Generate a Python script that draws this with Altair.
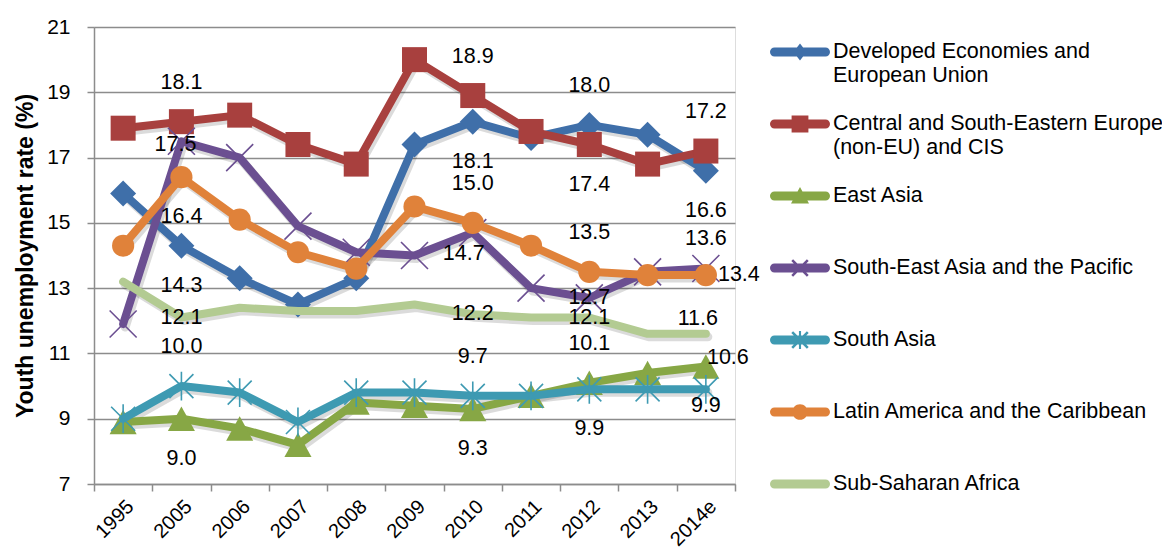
import altair as alt
import pandas as pd

years = ["1995", "2005", "2006", "2007", "2008", "2009", "2010", "2011", "2012", "2013", "2014e"]

names = [
    "Developed Economies and European Union",
    "Central and South-Eastern Europe (non-EU) and CIS",
    "East Asia",
    "South-East Asia and the Pacific",
    "South Asia",
    "Latin America and the Caribbean",
    "Sub-Saharan Africa",
]

dev = [15.9, 14.3, 13.3, 12.5, 13.3, 17.4, 18.1, 17.6, 18.0, 17.7, 16.6]
cse = [17.9, 18.1, 18.3, 17.4, 16.8, 20.0, 18.9, 17.8, 17.4, 16.8, 17.2]
eas = [8.9, 9.0, 8.7, 8.2, 9.5, 9.4, 9.3, 9.7, 10.1, 10.4, 10.6]
sea = [11.9, 17.5, 17.0, 14.9, 14.1, 14.0, 14.7, 13.0, 12.7, 13.5, 13.6]
sas = [9.0, 10.0, 9.8, 8.9, 9.8, 9.8, 9.7, 9.7, 9.9, 9.9, 9.9]
lac = [14.3, 16.4, 15.1, 14.1, 13.6, 15.5, 15.0, 14.3, 13.5, 13.4, 13.4]
ssa = [13.2, 12.1, 12.4, 12.3, 12.3, 12.5, 12.2, 12.1, 12.1, 11.6, 11.6]
values = [dev, cse, eas, sea, sas, lac, ssa]

labeled_years = ["2005", "2010", "2012", "2014e"]
y_ticks = [7, 9, 11, 13, 15, 17, 19, 21]

colors = ["#3F6FA9", "#A8403E", "#87A745", "#6B4F91", "#3E9AB2", "#E0823A", "#B3CB92"]

# ---- styles ----
FONT = "Liberation Sans, Arial, sans-serif"
GRID = "#8C8C8C"

# plot markers (custom symbol paths), None = no marker
marker = [
    dict(shape="M0,-1L1,0L0,1L-1,0Z", size=676, filled=True),
    dict(shape="M-1,-1H1V1H-1Z", size=625, filled=True),
    dict(shape="M0,-0.95L1.05,0.95L-1.05,0.95Z", size=665, filled=True),
    dict(shape="M-1,-1L1,1M-1,1L1,-1", size=729, filled=False, strokeWidth=1.6),
    dict(shape="M-1,-1L1,1M-1,1L1,-1M0,-1.2L0,1.2", size=576, filled=False, strokeWidth=1.6),
    dict(shape="circle", size=491, filled=True),
    None,
]

# legend symbols: bar + marker, all filled, units of 30px
bar = "M-0.85,-0.15L0.85,-0.15A0.15,0.15 0 0 1 0.85,0.15L-0.85,0.15A0.15,0.15 0 0 1 -0.85,-0.15Z"
xcross = ("M-0.23,-0.29L0.29,0.23L0.23,0.29L-0.29,-0.23Z"
          "M-0.23,0.29L-0.29,0.23L0.23,-0.29L0.29,-0.23Z")
legend_paths = [
    bar + "M0,-0.28L0.22,0L0,0.28L-0.22,0Z",
    bar + "M-0.28,-0.28H0.28V0.28H-0.28Z",
    bar + "M0,-0.3L0.3,0.25L-0.3,0.25Z",
    bar + xcross,
    bar + xcross + "M-0.035,-0.3H0.035V0.3H-0.035Z",
    bar + "M-0.26,0A0.26,0.26 0 1 1 0.26,0A0.26,0.26 0 1 1 -0.26,0Z",
    bar,
]

# label placement offsets (dx, dy) in px
A, B, C = (0, -39), (0, 40), (0, 0)
placement = {
    (1, "2005"): A, (3, "2005"): (-6, 4), (5, "2005"): B, (0, "2005"): B,
    (6, "2005"): C, (4, "2005"): A, (2, "2005"): B,
    (1, "2010"): A, (0, "2010"): B, (5, "2010"): A, (3, "2010"): (-9, 21),
    (6, "2010"): C, (4, "2010"): A, (2, "2010"): B,
    (0, "2012"): A, (1, "2012"): B, (5, "2012"): A, (3, "2012"): C,
    (6, "2012"): C, (2, "2012"): A, (4, "2012"): B,
    (1, "2014e"): A, (0, "2014e"): B, (3, "2014e"): (0, -30), (5, "2014e"): (33, 0),
    (6, "2014e"): (-8, -15), (2, "2014e"): (22, -8), (4, "2014e"): (0, 17),
}

rows = []
for i, (n, vals) in enumerate(zip(names, values)):
    for yr, v in zip(years, vals):
        rows.append({"series": n, "idx": i, "year": yr, "value": v})
df = pd.DataFrame(rows)

lab_rows = []
for (i, yr), (dx, dy) in placement.items():
    v = values[i][years.index(yr)]
    lab_rows.append({"series": names[i], "year": yr, "value": v,
                     "label": f"{v:.1f}", "off": f"{dx},{dy}"})
ldf = pd.DataFrame(lab_rows)

x_enc = alt.X("year:N", sort=years,
              scale=alt.Scale(domain=years, type="band", paddingInner=0, paddingOuter=0),
              axis=alt.Axis(title=None, labelAngle=-45, labelFont=FONT, labelFontSize=20,
                            labelColor="#000", tickBand="extent", tickColor=GRID, tickSize=7,
                            tickWidth=1.5, domainColor=GRID, domainWidth=1.5, grid=False,
                            labelPadding=5))
y_enc = alt.Y("value:Q", scale=alt.Scale(domain=[7, 21], nice=False, zero=False),
              axis=alt.Axis(title="Youth unemployment rate (%)", values=y_ticks,
                            titleFont=FONT, titleFontSize=23, titleFontWeight="bold",
                            titleColor="#000", titleX=-57,
                            labelFont=FONT, labelFontSize=21, labelColor="#000",
                            labelPadding=17, tickColor=GRID, tickSize=7, tickWidth=1.5,
                            domainColor=GRID, domainWidth=1.5, gridColor=GRID, gridWidth=1.3))

layers = []
for i, n in enumerate(names):
    base = alt.Chart(df).transform_filter(alt.datum.idx == i)
    layers.append(base.mark_line(color="#000", opacity=0.14, strokeWidth=9, strokeJoin="round",
                                 strokeCap="round", xOffset=2, yOffset=3)
                  .encode(x=x_enc, y=y_enc))
for i, n in enumerate(names):
    base = alt.Chart(df).transform_filter(alt.datum.idx == i)
    layers.append(base.mark_line(color=colors[i], strokeWidth=8, strokeJoin="round",
                                 strokeCap="round").encode(x=x_enc, y=y_enc))
    m = marker[i]
    if m is not None:
        props = dict(m)
        if props["filled"]:
            props.update(fill=colors[i], opacity=1, strokeWidth=0)
        else:
            props.update(stroke=colors[i], opacity=1)
        layers.append(base.mark_point(**props).encode(x=x_enc, y=y_enc))

for off in sorted(set(ldf["off"])):
    dx, dy = map(int, off.split(","))
    layers.append(alt.Chart(ldf).transform_filter(alt.datum.off == off)
                  .mark_text(font=FONT, fontSize=21.5, color="#000", dx=dx, dy=dy,
                             align="center", baseline="middle")
                  .encode(x=x_enc, y=y_enc, text="label:N"))

label_expr = ("datum.label == 'Developed Economies and European Union' ? "
              "['Developed Economies and', 'European Union'] : "
              "datum.label == 'Central and South-Eastern Europe (non-EU) and CIS' ? "
              "['Central and South-Eastern Europe', '(non-EU) and CIS'] : [datum.label, ' ']")
leg = alt.Legend(title=None, orient="none", legendX=676, legendY=-5, symbolSize=3600,
                 symbolStrokeWidth=0, labelFont=FONT, labelFontSize=21.5, labelColor="#000",
                 labelLimit=500, labelOffset=3, rowPadding=8, padding=0, labelExpr=label_expr)
legend_layer = (alt.Chart(df).transform_filter("false")
                .mark_point(filled=True, opacity=1)
                .encode(x=x_enc, y=y_enc,
                        fill=alt.Fill("series:N", scale=alt.Scale(domain=names, range=colors), legend=leg),
                        shape=alt.Shape("series:N", scale=alt.Scale(domain=names, range=legend_paths), legend=leg)))
layers.append(legend_layer)

chart = (alt.layer(*layers)
         .properties(width=641, height=457,
                     padding={"left": 86, "top": 19, "right": 427, "bottom": 65},
                     autosize=alt.AutoSizeParams(type="none"))
         .configure_view(stroke=None)
         .configure(background="white"))

chart.save("out.html", embed_options={"renderer": "svg", "actions": False})
